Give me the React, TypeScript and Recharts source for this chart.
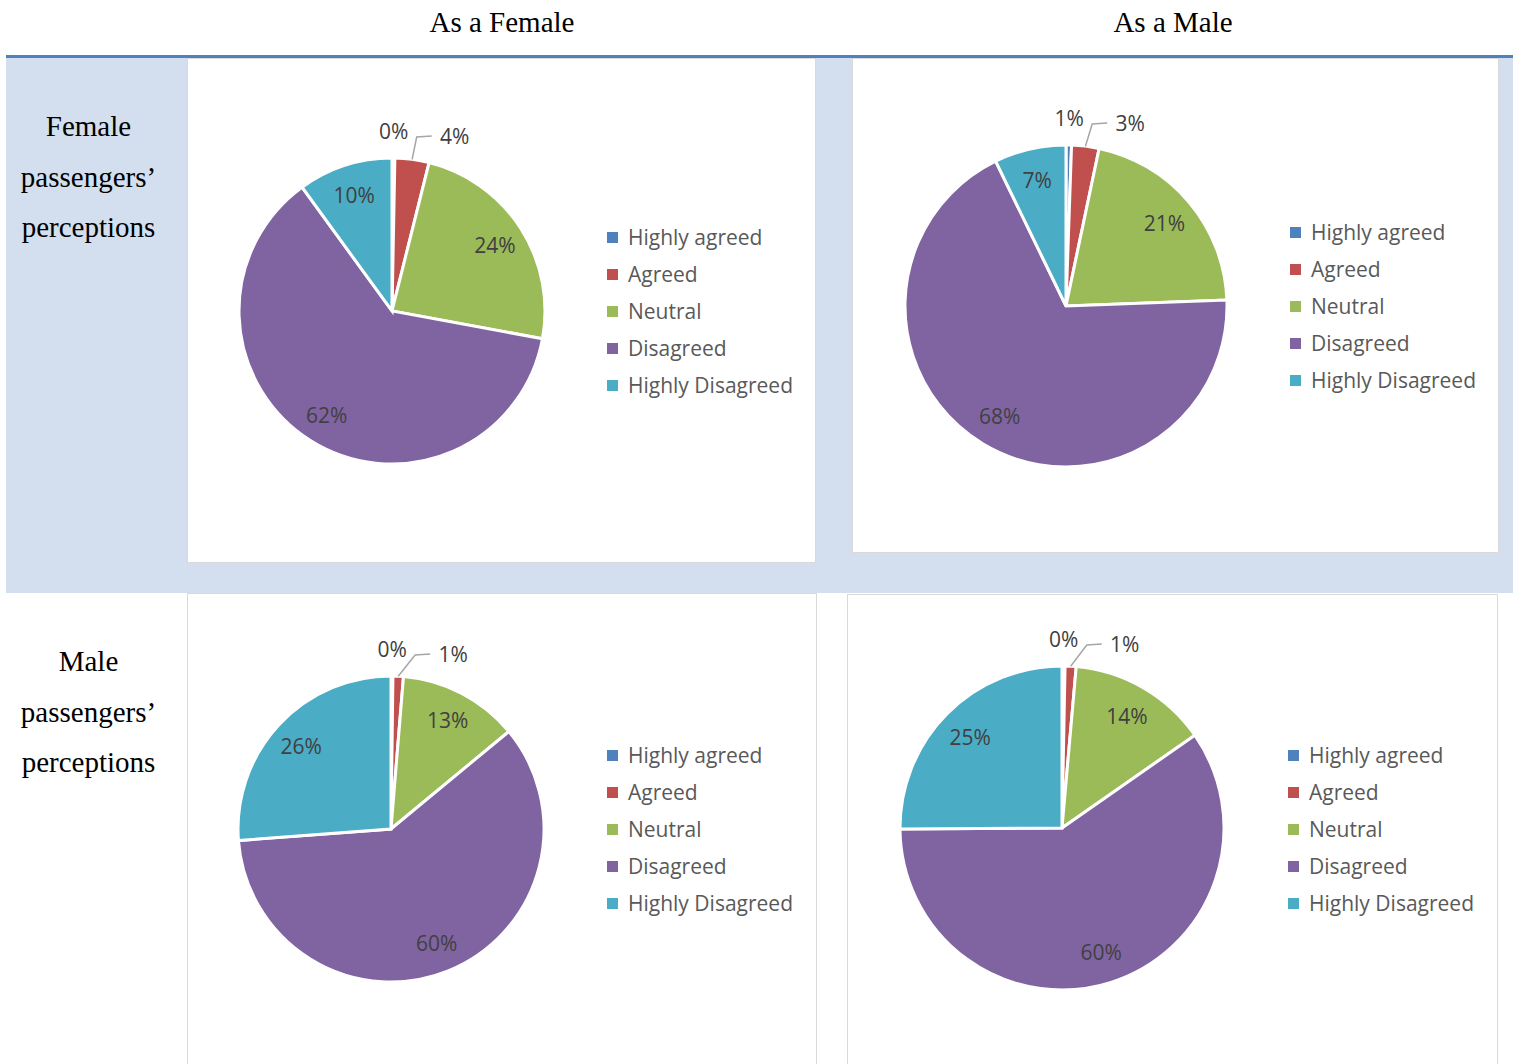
import React from 'react';
import { PieChart, Pie, Cell, Legend } from 'recharts';

const categories = ['Highly agreed', 'Agreed', 'Neutral', 'Disagreed', 'Highly Disagreed'];
const colors = ['#4F81BD', '#C0504D', '#9BBB59', '#8064A2', '#4BACC6'];

// percentages
const femaleAsFemale = [0.3, 3.6, 24.0, 62.1, 10.0];
const femaleAsMale = [0.55, 2.75, 21.1, 68.4, 7.2];
const maleAsFemale = [0.2, 1.1, 12.7, 59.8, 26.2];
const maleAsMale = [0.3, 1.1, 13.9, 59.6, 25.1];

const columnTitles = ['As a Female', 'As a Male'];
const rowTitles = [['Female', 'passengers\u2019', 'perceptions'], ['Male', 'passengers\u2019', 'perceptions']];

const FONT = '"Open Sans", sans-serif';
const SERIF = '"Liberation Serif", "Times New Roman", serif';
const RADIAN = Math.PI / 180;

const makeData = (vals: number[]) => categories.map((name, i) => ({ name, value: vals[i] }));

const renderLabel = (props: any) => {
  const { cx, cy, midAngle, outerRadius, index, percent, startAngle } = props;
  const pct = Math.round(percent * 100);
  const cos = Math.cos(-midAngle * RADIAN);
  const sin = Math.sin(-midAngle * RADIAN);
  const text = `${pct}%`;
  const style = { fontFamily: FONT, fontSize: 21, fill: '#404040' };
  if (percent < 0.05 && index === 0) {
    const x = cx + (outerRadius + 27) * cos;
    const y = cy + (outerRadius + 27) * sin;
    return (
      <text x={x} y={y} textAnchor="middle" dominantBaseline="central" style={style}>
        {text}
      </text>
    );
  }
  if (percent < 0.05) {
    const ex = cx + outerRadius * cos;
    const ey = cy + outerRadius * sin;
    const prevMid = (90 + startAngle) / 2;
    const lx = cx + (outerRadius + 27) * Math.cos(-prevMid * RADIAN) + 61;
    const ly = cy - outerRadius - 22;
    return (
      <g>
        <polyline
          points={`${ex},${ey} ${lx - 38},${ly + 1} ${lx - 23},${ly}`}
          fill="none"
          stroke="#A6A6A6"
          strokeWidth={1.5}
        />
        <text x={lx} y={ly} textAnchor="middle" dominantBaseline="central" style={style}>
          {text}
        </text>
      </g>
    );
  }
  const r = outerRadius * 0.8;
  return (
    <text x={cx + r * cos} y={cy + r * sin} textAnchor="middle" dominantBaseline="central" style={style}>
      {text}
    </text>
  );
};

const LegendContent = () => (
  <div style={{ fontFamily: FONT, fontSize: 21, color: '#595959' }}>
    {categories.map((c, i) => (
      <div key={c} style={{ height: 37, lineHeight: '37px', display: 'flex', alignItems: 'center', whiteSpace: 'nowrap' }}>
        <span style={{ width: 11, height: 11, background: colors[i], display: 'inline-block', marginRight: 10 }} />
        <span>{c}</span>
      </div>
    ))}
  </div>
);

type PanelProps = {
  vals: number[];
  left: number;
  top: number;
  width: number;
  height: number;
  cx: number;
  cy: number;
  r: number;
  legendLeft: number;
  legendTop: number;
  borders: React.CSSProperties;
};

const Panel = ({ vals, left, top, width, height, cx, cy, r, legendLeft, legendTop, borders }: PanelProps) => (
  <div style={{ position: 'absolute', left, top, width, height, background: '#fff', boxSizing: 'border-box', ...borders }}>
    <PieChart width={width - 2} height={height - 2} margin={{ top: 0, right: 0, bottom: 0, left: 0 }}>
      <Pie
        data={makeData(vals)}
        dataKey="value"
        nameKey="name"
        cx={cx}
        cy={cy}
        outerRadius={r}
        startAngle={90}
        endAngle={-270}
        stroke="#fff"
        strokeWidth={3}
        label={renderLabel}
        labelLine={false}
        isAnimationActive={false}
      >
        {vals.map((_, i) => (
          <Cell key={i} fill={colors[i]} />
        ))}
      </Pie>
      <Legend
        layout="vertical"
        align="right"
        verticalAlign="middle"
        content={<LegendContent />}
        wrapperStyle={{ left: legendLeft, top: legendTop, width: 220, right: 'auto', bottom: 'auto' }}
      />
    </PieChart>
  </div>
);

const border = '1px solid #D9D9D9';

export default function App() {
  return (
    <div style={{ position: 'absolute', left: 0, top: 0, width: 1519, height: 1064, background: '#fff', overflow: 'hidden' }}>
      {columnTitles.map((t, i) => (
        <div
          key={t}
          style={{
            position: 'absolute',
            left: i === 0 ? 402 : 1073,
            top: 6,
            width: 200,
            textAlign: 'center',
            fontFamily: SERIF,
            fontSize: 29,
            lineHeight: '32px',
            color: '#000',
          }}
        >
          {t}
        </div>
      ))}
      <div style={{ position: 'absolute', left: 6, top: 55, width: 1507, height: 3, background: '#4F81BD' }} />
      <div style={{ position: 'absolute', left: 6, top: 58, width: 1507, height: 535, background: '#D3DFEE' }} />
      {rowTitles.map((lines, ri) => (
        <div
          key={ri}
          style={{
            position: 'absolute',
            left: 0,
            top: (ri === 0 ? 127 : 662) - 26,
            width: 177,
            textAlign: 'center',
            fontFamily: SERIF,
            fontSize: 29,
            lineHeight: '50.5px',
            color: '#000',
          }}
        >
          {lines.map((l) => (
            <div key={l}>{l}</div>
          ))}
        </div>
      ))}
      <Panel
        vals={femaleAsFemale}
        left={187}
        top={58}
        width={629}
        height={505}
        cx={204}
        cy={252}
        r={153}
        legendLeft={419}
        legendTop={160}
        borders={{ border }}
      />
      <Panel
        vals={femaleAsMale}
        left={852}
        top={58}
        width={647}
        height={495}
        cx={213}
        cy={247}
        r={161}
        legendLeft={437}
        legendTop={155}
        borders={{ border }}
      />
      <Panel
        vals={maleAsFemale}
        left={187}
        top={593}
        width={630}
        height={472}
        cx={203}
        cy={235}
        r={153}
        legendLeft={419}
        legendTop={143}
        borders={{ borderLeft: border, borderRight: border, borderTop: border }}
      />
      <Panel
        vals={maleAsMale}
        left={847}
        top={594}
        width={651}
        height={471}
        cx={214}
        cy={233}
        r={162}
        legendLeft={440}
        legendTop={142}
        borders={{ borderLeft: border, borderRight: border, borderTop: border }}
      />
    </div>
  );
}
